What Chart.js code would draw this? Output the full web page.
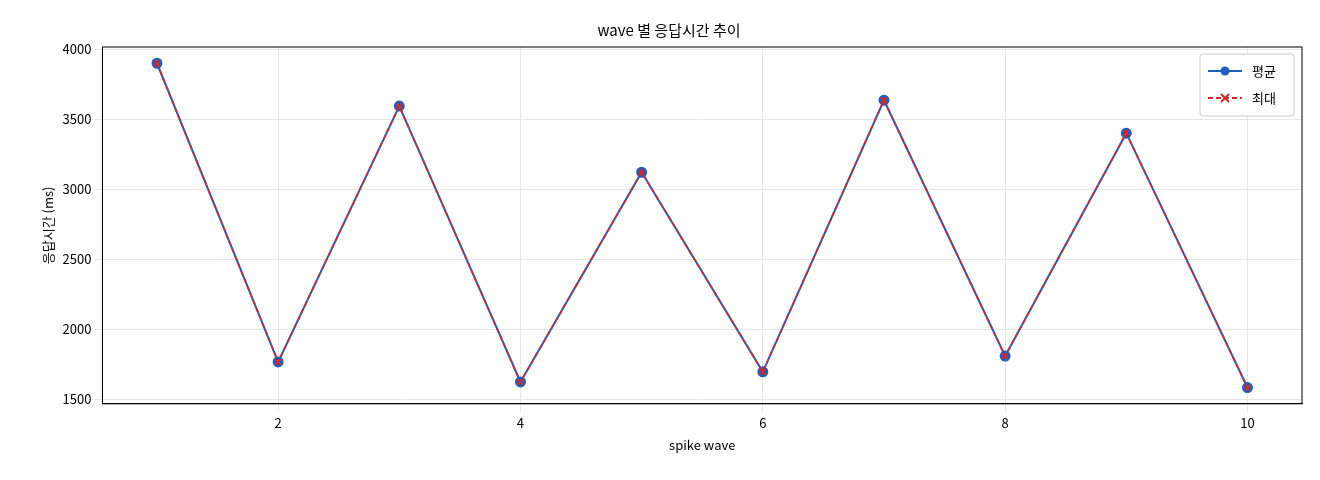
<!DOCTYPE html>
<html><head><meta charset="utf-8">
<script src="https://cdn.jsdelivr.net/npm/chart.js@4"></script>
<style>body{margin:0;background:#fff}#w{width:1320px;height:480px}</style>
</head><body><div id="w"><canvas id="c"></canvas></div>
<script>
const waves=[1,2,3,4,5,6,7,8,9,10];
const avgMs=[3900,1768,3594,1625,3122,1697,3636,1810,3401,1585];
const maxMs=[3900,1768,3594,1625,3122,1697,3636,1810,3401,1585];
const xTicks=[2,4,6,8,10];
const yTicks=[1500,2000,2500,3000,3500,4000];
const F="'Noto Sans CJK KR','DejaVu Sans',sans-serif";
Chart.defaults.font.family=F;Chart.defaults.color='#222';
const frame={id:'frame',afterDraw(ch){const a=ch.chartArea,c=ch.ctx;c.save();c.strokeStyle='#000';c.lineWidth=1;c.strokeRect(a.left,a.top,a.right-a.left,a.bottom-a.top);
// legend
const x=a.right-102,y=a.top+7,w=94,h=62;
c.fillStyle='rgba(255,255,255,0.9)';c.strokeStyle='#ccc';c.beginPath();c.roundRect(x,y,w,h,3);c.fill();c.stroke();
ch.data.datasets.forEach((d,i)=>{const ly=y+17+i*27;c.strokeStyle=d.borderColor;c.lineWidth=2;c.setLineDash(d.borderDash||[]);c.beginPath();c.moveTo(x+8,ly);c.lineTo(x+42,ly);c.stroke();c.setLineDash([]);
const mx=x+25;if(i==0){c.fillStyle=d.borderColor;c.beginPath();c.arc(mx,ly,4.5,0,7);c.fill();}else{c.beginPath();c.moveTo(mx-4,ly-4);c.lineTo(mx+4,ly+4);c.moveTo(mx+4,ly-4);c.lineTo(mx-4,ly+4);c.stroke();}
c.fillStyle='#000';c.font='13px '+F;c.textBaseline='middle';c.fillText(d.label,x+52,ly);});
c.restore();}};
new Chart(document.getElementById('c'),{type:'line',
data:{datasets:[
{label:'평균',order:2,data:waves.map((x,i)=>({x,y:avgMs[i]})),borderColor:'#1f5fbf',backgroundColor:'#1f5fbf',borderWidth:2,pointRadius:4.5,pointStyle:'circle'},
{label:'최대',order:1,data:waves.map((x,i)=>({x,y:maxMs[i]})),borderColor:'#d62728',backgroundColor:'#d62728',borderWidth:1.6,borderDash:[5,3],pointRadius:4,pointStyle:'crossRot',pointBorderWidth:2}
]},
options:{responsive:true,maintainAspectRatio:false,animation:false,
layout:{padding:{left:36,right:18,top:15,bottom:23}},
plugins:{legend:{display:false},title:{display:true,text:'wave 별 응답시간 추이',font:{size:15,weight:'normal'},color:'#000',padding:{top:6,bottom:8}}},
scales:{x:{type:'linear',min:0.55,max:10.45,afterBuildTicks(s){s.ticks=xTicks.map(v=>({value:v}))},grid:{color:'#e6e6e6'},border:{color:'#000'},ticks:{font:{size:13},color:'#000'},title:{display:true,text:'spike wave',font:{size:13},color:'#000'}},
y:{min:1469,max:4016,afterBuildTicks(s){s.ticks=yTicks.map(v=>({value:v}))},grid:{color:'#e6e6e6'},border:{color:'#000'},ticks:{font:{size:13},color:'#000',callback:v=>String(v)},title:{display:true,text:'응답시간 (ms)',font:{size:13},color:'#000'}}}},
plugins:[frame]});
</script></body></html>
